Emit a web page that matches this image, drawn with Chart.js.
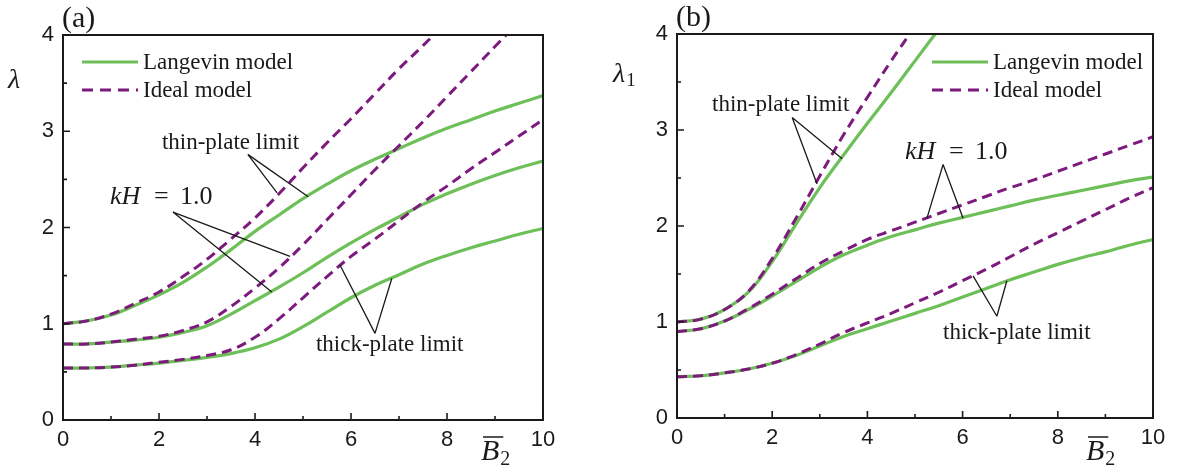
<!DOCTYPE html>
<html><head><meta charset="utf-8">
<script src="https://cdn.jsdelivr.net/npm/chart.js@4.4.1/dist/chart.umd.min.js"></script>
<style>
html,body{margin:0;padding:0;background:#fff;}
#wrap{position:relative;width:1178px;height:466px;overflow:hidden;}
canvas{position:absolute;top:0;}
</style></head><body>
<div id="wrap">
<canvas id="ca" width="590" height="466" style="left:0px"></canvas>
<canvas id="cb" width="588" height="466" style="left:590px"></canvas>
</div>
<script>
// ---------- data ----------
const B2 = [0,0.5,1,1.5,2,2.5,3,3.5,4,4.5,5,5.5,6,6.5,7,7.5,8,8.5,9,9.5,10];
const xTicks = [0,2,4,6,8,10];
const yTicks = [0,1,2,3,4];

// panel (a): lambda
const aThinLangevin  = [1.00,1.03,1.09,1.19,1.30,1.43,1.59,1.77,1.96,2.13,2.30,2.45,2.59,2.71,2.82,2.93,3.03,3.12,3.21,3.29,3.37];
const aThinIdeal     = [1.00,1.03,1.10,1.21,1.33,1.49,1.67,1.88,2.10,2.35,2.62,2.88,3.13,3.39,3.65,3.89,4.14,null,null,null,null];
const aKHLangevin    = [0.79,0.79,0.81,0.83,0.86,0.91,0.98,1.10,1.24,1.38,1.53,1.69,1.84,1.98,2.11,2.24,2.35,2.45,2.54,2.62,2.69];
const aKHIdeal       = [0.79,0.79,0.81,0.84,0.87,0.93,1.02,1.18,1.37,1.58,1.82,2.08,2.34,2.60,2.85,3.10,3.36,3.62,3.88,4.14,null];
const aThickLangevin = [0.54,0.54,0.55,0.57,0.59,0.62,0.65,0.69,0.75,0.84,0.97,1.12,1.27,1.40,1.51,1.62,1.71,1.79,1.86,1.93,1.99];
const aThickIdeal    = [0.54,0.54,0.55,0.57,0.60,0.63,0.67,0.73,0.86,1.05,1.27,1.49,1.70,1.88,2.07,2.26,2.43,2.61,2.78,2.95,3.12];

// panel (b): lambda_1
const bThinLangevin  = [1.00,1.03,1.13,1.31,1.63,2.02,2.40,2.74,3.07,3.39,3.72,4.05,null,null,null,null,null,null,null,null,null];
const bThinIdeal     = [1.00,1.03,1.13,1.32,1.66,2.08,2.52,2.95,3.34,3.72,4.08,null,null,null,null,null,null,null,null,null,null];
const bKHLangevin    = [0.90,0.93,1.01,1.13,1.27,1.42,1.57,1.70,1.80,1.89,1.96,2.03,2.09,2.15,2.21,2.27,2.32,2.37,2.42,2.47,2.51];
const bKHIdeal       = [0.90,0.93,1.01,1.14,1.29,1.45,1.61,1.74,1.86,1.95,2.04,2.13,2.22,2.31,2.40,2.48,2.57,2.66,2.75,2.84,2.93];
const bThickLangevin = [0.43,0.44,0.47,0.51,0.57,0.65,0.75,0.85,0.93,1.01,1.09,1.17,1.26,1.35,1.44,1.52,1.60,1.67,1.73,1.80,1.86];
const bThickIdeal    = [0.43,0.44,0.47,0.51,0.57,0.66,0.77,0.89,0.99,1.09,1.20,1.31,1.43,1.55,1.68,1.81,1.93,2.05,2.17,2.29,2.40];

const seriesNames = ['Langevin model','Ideal model'];
const annThin = 'thin-plate limit';
const annThick = 'thick-plate limit';

// ---------- style ----------
const SANS = '"Liberation Sans", Arial, Helvetica, sans-serif';
const SERIF = '"Liberation Serif", "Times New Roman", Times, serif';
const GREEN = '#6dbf57';
const PURPLE = '#7d1a7d';
const INK = '#1a1a1a';

function pts(ys){ return B2.map((x,i)=>({x:x, y:ys[i]})); }

function ds(label, ys, dashed){
  return {
    label: label, data: pts(ys),
    borderColor: dashed ? PURPLE : GREEN,
    borderWidth: dashed ? 3 : 3.2,
    borderDash: dashed ? [10,6] : [],
    pointRadius: 0, fill: false,
    tension: 0.4,
    spanGaps: false,
    order: dashed ? 1 : 2
  };
}

function makeDeco(cfg){
  return {
    id: 'deco',
    afterDraw(chart){
      const ctx = chart.ctx, a = chart.chartArea;
      const sx = chart.scales.x, sy = chart.scales.y;
      const X = v => sx.getPixelForValue(v), Y = v => sy.getPixelForValue(v);
      ctx.save();
      // frame
      ctx.strokeStyle = INK; ctx.lineWidth = 2; ctx.setLineDash([]);
      ctx.strokeRect(a.left, a.top, a.right - a.left, a.bottom - a.top);
      // ticks (inward)
      ctx.lineWidth = 1.6;
      ctx.beginPath();
      xTicks.forEach(v => { ctx.moveTo(X(v), a.bottom); ctx.lineTo(X(v), a.bottom - 7); });
      for (let i = 0; i < xTicks.length - 1; i++) { const m = (xTicks[i]+xTicks[i+1])/2; ctx.moveTo(X(m), a.bottom); ctx.lineTo(X(m), a.bottom - 4); }
      yTicks.forEach(v => { ctx.moveTo(a.left, Y(v)); ctx.lineTo(a.left + 7, Y(v)); });
      for (let i = 0; i < yTicks.length - 1; i++) { const m = (yTicks[i]+yTicks[i+1])/2; ctx.moveTo(a.left, Y(m)); ctx.lineTo(a.left + 4, Y(m)); }
      ctx.stroke();

      ctx.fillStyle = INK; ctx.textBaseline = 'alphabetic'; ctx.textAlign = 'left';
      // panel label
      ctx.font = '30px ' + SERIF;
      ctx.fillText(cfg.panel, a.left + cfg.panelDx, a.top - 8);
      // y label
      ctx.font = 'italic 28px ' + SERIF;
      const yl = cfg.ylab;
      ctx.fillText('λ', a.left + yl.dx, a.top + yl.dy);
      if (yl.sub) {
        const w = ctx.measureText('λ').width;
        ctx.font = '19px ' + SERIF;
        ctx.fillText(yl.sub, a.left + yl.dx + w + 1, a.top + yl.dy + 4);
      }
      // x label  B-bar_2
      const xl = cfg.xlab;
      const bx = a.right + xl.dx, by = a.bottom + xl.dy;
      ctx.font = 'italic 30px ' + SERIF;
      ctx.fillText('B', bx, by);
      const bw = ctx.measureText('B').width;
      ctx.lineWidth = 1.5;
      ctx.beginPath(); ctx.moveTo(bx + 2, by - 23); ctx.lineTo(bx + bw + 4, by - 23); ctx.stroke();
      ctx.font = '20px ' + SERIF;
      ctx.fillText('2', bx + bw + 1, by + 5);

      // legend
      const lg = cfg.legend;
      const lx0 = a.left + lg.dx, lx1 = lx0 + 56;
      ctx.lineWidth = 3;
      ctx.strokeStyle = GREEN; ctx.setLineDash([]);
      ctx.beginPath(); ctx.moveTo(lx0, a.top + lg.dy1); ctx.lineTo(lx1, a.top + lg.dy1); ctx.stroke();
      ctx.strokeStyle = PURPLE; ctx.setLineDash([11,7]);
      ctx.beginPath(); ctx.moveTo(lx0, a.top + lg.dy2); ctx.lineTo(lx1, a.top + lg.dy2); ctx.stroke();
      ctx.setLineDash([]);
      ctx.font = '23px ' + SERIF; ctx.fillStyle = INK;
      ctx.fillText(seriesNames[0], lx1 + 5, a.top + lg.dy1 + 7);
      ctx.fillText(seriesNames[1], lx1 + 5, a.top + lg.dy2 + 7);

      // annotations
      ctx.strokeStyle = INK; ctx.lineWidth = 1.3;
      cfg.anns.forEach(an => {
        ctx.beginPath();
        an.ends.forEach(e => { ctx.moveTo(X(an.apex[0]), Y(an.apex[1])); ctx.lineTo(X(e[0]), Y(e[1])); });
        ctx.stroke();
        const tx = X(an.at[0]), ty = Y(an.at[1]);
        if (an.math) {
          ctx.font = 'italic 26px ' + SERIF; ctx.fillText('kH', tx, ty);
          ctx.font = '26px ' + SERIF; ctx.fillText('=', tx + 44, ty); ctx.fillText('1.0', tx + 70, ty);
        } else {
          ctx.font = '23px ' + SERIF; ctx.fillText(an.text, tx, ty);
        }
      });
      ctx.restore();
    }
  };
}

function makeChart(id, S, geom, deco){
  return new Chart(document.getElementById(id), {
    type: 'line',
    data: { datasets: [
      ds(seriesNames[0], S[0], false), ds(seriesNames[1], S[1], true),
      ds(seriesNames[0], S[2], false), ds(seriesNames[1], S[3], true),
      ds(seriesNames[0], S[4], false), ds(seriesNames[1], S[5], true)
    ]},
    options: {
      responsive: false, animation: false, devicePixelRatio: 1,
      layout: { padding: { left: 0, top: geom.top, right: geom.right, bottom: 0 } },
      plugins: { legend: { display: false }, tooltip: { enabled: false } },
      scales: {
        x: { type: 'linear', min: 0, max: 10,
             grid: { display: false, drawTicks: false }, border: { display: false },
             ticks: { stepSize: 2, padding: 7, color: INK, maxRotation: 0, autoSkip: false,
                      font: { family: SANS, size: 22 } },
             afterFit(s){ s.height = geom.xh; } },
        y: { type: 'linear', min: 0, max: 4,
             grid: { display: false, drawTicks: false }, border: { display: false },
             ticks: { stepSize: 1, padding: 9, color: INK, autoSkip: false,
                      font: { family: SANS, size: 22 } },
             afterFit(s){ s.width = geom.yw; } }
      }
    },
    plugins: [makeDeco(deco)]
  });
}

makeChart('ca',
  [aThinLangevin, aThinIdeal, aKHLangevin, aKHIdeal, aThickLangevin, aThickIdeal],
  { top: 35, right: 47, xh: 46, yw: 63 },
  { panel: '(a)', panelDx: -1,
    ylab: { dx: -55, dy: 53, sub: '' },
    xlab: { dx: -62, dy: 40 },
    legend: { dx: 19, dy1: 27, dy2: 55 },
    anns: [
      { text: annThin, at: [2.06, 2.82], apex: [3.85, 2.76], ends: [[4.46, 2.36], [5.11, 2.32]] },
      { math: true, at: [0.98, 2.24], apex: [2.29, 2.16], ends: [[4.73, 1.70], [4.35, 1.33]] },
      { text: annThick, at: [5.27, 0.717], apex: [6.5, 0.90], ends: [[5.77, 1.61], [6.85, 1.47]] }
    ] });

makeChart('cb',
  [bThinLangevin, bThinIdeal, bKHLangevin, bKHIdeal, bThickLangevin, bThickIdeal],
  { top: 34, right: 25, xh: 48, yw: 87 },
  { panel: '(b)', panelDx: -1,
    ylab: { dx: -64, dy: 48, sub: '1' },
    xlab: { dx: -67, dy: 42 },
    legend: { dx: 255, dy1: 28, dy2: 56 },
    anns: [
      { text: annThin, at: [0.735, 3.20], apex: [2.42, 3.13], ends: [[2.94, 2.44], [3.47, 2.70]] },
      { math: true, at: [4.79, 2.70], apex: [5.59, 2.64], ends: [[5.25, 2.08], [6.01, 2.08]] },
      { text: annThick, at: [5.59, 0.82], apex: [6.72, 1.06], ends: [[6.22, 1.48], [6.93, 1.43]] }
    ] });
</script>
</body></html>
